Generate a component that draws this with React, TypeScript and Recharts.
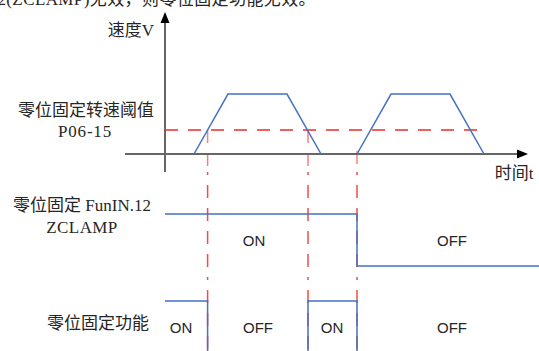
import { LineChart, Line, XAxis, YAxis, ReferenceLine } from 'recharts'

// time axis (t = 0 at the speed axis)
const timeDomain = [-165, 374]

// speed profile: two trapezoid runs
const run1Times = [29, 63, 122, 156]
const run1Speeds = [0, 100, 100, 0]
const run2Times = [192, 226, 285, 319]
const run2Speeds = [0, 100, 100, 0]
const thresholdSpeed = 40
const thresholdEnd = 322

// edges where the clamp state changes
const switchTimes = [42.6, 143, 192]
const switchStartSpeeds = [40, 40, 5]

// ZCLAMP input (1 = ON, 0 = OFF)
const zclampTimes = [0, 192, 374]
const zclampLevels = [1, 0, 0]

// zero clamp function output
const clampTimes = [0, 42.6, 143, 192, 374]
const clampLevels = [1, 0, 1, 0, 0]

const BLUE = '#4472c4'
const RED = '#ee2b2b'
const AXIS = '#666666'
const DASH = '13 10'
const W = 539

const CJK = '"Liberation Serif", "Noto Sans CJK SC", serif'
const SANS = '"Liberation Sans", Arial, sans-serif'

const toData = (ts: number[], vs: number[]) => ts.map((t, i) => ({ t, v: vs[i] }))

// eslint-disable-next-line @typescript-eslint/no-explicit-any
const arrowLine = (dir: 'right' | 'up') => (p: any) => {
  const { x1, y1, x2, y2 } = p
  const head =
    dir === 'right'
      ? `${x2},${y2} ${x2 - 11},${y2 - 4.5} ${x2 - 11},${y2 + 4.5}`
      : `${x2},${y2} ${x2 - 4.5},${y2 + 11} ${x2 + 4.5},${y2 + 11}`
  return (
    <g>
      <line x1={x1} y1={y1} x2={dir === 'right' ? x2 - 8 : x2} y2={dir === 'up' ? y2 + 8 : y2} stroke={AXIS} strokeWidth={2} />
      <polygon points={head} fill="#000" />
    </g>
  )
}

function Text({ x, y, children, font = CJK, size = 17, spacing = 0 }: { x: number; y: number; children: React.ReactNode; font?: string; size?: number; spacing?: number }) {
  return (
    <div
      style={{
        position: 'absolute',
        left: x,
        top: y,
        transform: 'translate(-50%, -50%)',
        whiteSpace: 'nowrap',
        lineHeight: 1,
        fontFamily: font,
        fontSize: size,
        letterSpacing: spacing,
        color: '#262626',
      }}
    >
      {children}
    </div>
  )
}

function Verticals() {
  return (
    <>
      {switchTimes.map((t, i) => (
        <ReferenceLine
          key={`sw-${i}`}
          segment={[
            { x: t, y: 1000 },
            { x: t, y: -1000 },
          ]}
          ifOverflow="visible"
          stroke={RED}
          strokeOpacity={0.85}
          strokeWidth={1.5}
          strokeDasharray={DASH}
        />
      ))}
    </>
  )
}

export default function App() {
  return (
    <div style={{ position: 'absolute', left: 0, top: 0, width: W, height: 351, overflow: 'hidden', background: '#fff' }}>
      {/* speed chart */}
      <div style={{ position: 'absolute', left: 0, top: 0 }}>
        <LineChart width={W} height={172} margin={{ top: 0, right: 0, bottom: 0, left: 0 }}>
          <XAxis type="number" dataKey="t" domain={timeDomain} hide allowDataOverflow />
          <YAxis type="number" domain={[-30, 256.7]} hide allowDataOverflow />
          <ReferenceLine
            segment={[{ x: 0, y: thresholdSpeed }, { x: thresholdEnd, y: thresholdSpeed }]}
            ifOverflow="visible"
            stroke={RED}
            strokeWidth={1.5}
            strokeDasharray={DASH}
          />
          {switchTimes.map((t, i) => (
            <ReferenceLine
              key={`sw-${i}`}
              segment={[{ x: t, y: switchStartSpeeds[i] }, { x: t, y: -30 }]}
              ifOverflow="visible"
              stroke={RED}
              strokeOpacity={0.6}
              strokeWidth={1.5}
              strokeDasharray={DASH}
            />
          ))}
          <ReferenceLine segment={[{ x: 0, y: -32 }, { x: 0, y: 236.7 }]} ifOverflow="visible" shape={arrowLine('up')} />
          <ReferenceLine segment={[{ x: -40, y: 0 }, { x: 363, y: 0 }]} ifOverflow="visible" shape={arrowLine('right')} />
          <Line data={toData(run1Times, run1Speeds)} dataKey="v" stroke={BLUE} strokeWidth={1.5} dot={false} isAnimationActive={false} />
          <Line data={toData(run2Times, run2Speeds)} dataKey="v" stroke={BLUE} strokeWidth={1.5} dot={false} isAnimationActive={false} />
        </LineChart>
      </div>

      {/* ZCLAMP input */}
      <div style={{ position: 'absolute', left: 0, top: 172 }}>
        <LineChart width={W} height={108} margin={{ top: 0, right: 0, bottom: 0, left: 0 }}>
          <XAxis type="number" dataKey="t" domain={timeDomain} hide allowDataOverflow />
          <YAxis type="number" domain={[-0.27, 1.81]} hide allowDataOverflow />
          <Verticals />
          <Line data={toData(zclampTimes, zclampLevels)} dataKey="v" type="stepAfter" stroke={BLUE} strokeWidth={1.5} dot={false} isAnimationActive={false} />
        </LineChart>
      </div>

      {/* zero clamp function */}
      <div style={{ position: 'absolute', left: 0, top: 280 }}>
        <LineChart width={W} height={71} margin={{ top: 0, right: 0, bottom: 0, left: 0 }}>
          <XAxis type="number" dataKey="t" domain={timeDomain} hide allowDataOverflow />
          <YAxis type="number" domain={[0.153, 1.356]} hide allowDataOverflow />
          <Verticals />
          <Line data={toData(clampTimes, clampLevels)} dataKey="v" type="stepAfter" stroke={BLUE} strokeWidth={1.5} dot={false} isAnimationActive={false} />
        </LineChart>
      </div>

      {/* caption line cut off at the top, as in the source */}
      <div
        style={{
          position: 'absolute',
          right: W - 316,
          top: -9,
          whiteSpace: 'nowrap',
          fontFamily: CJK,
          fontSize: 17,
          lineHeight: '17px',
          letterSpacing: 0.4,
          color: '#262626',
        }}
      >
        FunIN.12(ZCLAMP)无效，则零位固定功能无效。
      </div>

      <Text x={131} y={30}>速度V</Text>
      <Text x={86} y={110}>零位固定转速阈值</Text>
      <Text x={85} y={131} spacing={0.8}>P06-15</Text>
      <Text x={514} y={173}>时间t</Text>
      <Text x={82} y={205}>零位固定 FunIN.12</Text>
      <Text x={82} y={227} spacing={0.4}>ZCLAMP</Text>
      <Text x={98} y={323}>零位固定功能</Text>

      <Text x={254} y={240} font={SANS} size={15}>ON</Text>
      <Text x={452} y={240} font={SANS} size={15}>OFF</Text>
      <Text x={181} y={327} font={SANS} size={15}>ON</Text>
      <Text x={258} y={327} font={SANS} size={15}>OFF</Text>
      <Text x={332} y={327} font={SANS} size={15}>ON</Text>
      <Text x={452} y={327} font={SANS} size={15}>OFF</Text>
    </div>
  )
}
